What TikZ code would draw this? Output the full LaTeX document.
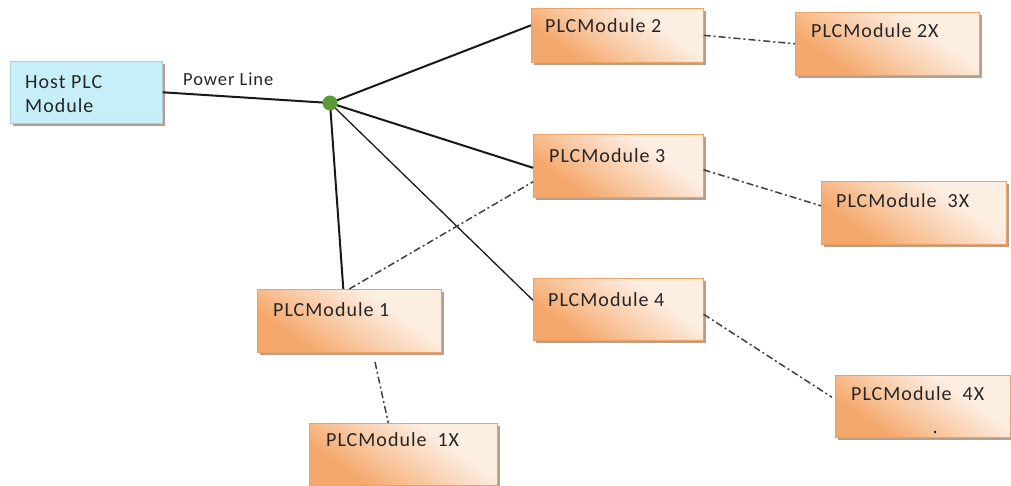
\documentclass[tikz,border=0pt]{standalone}
\usepackage{fontspec}
\setmainfont{Carlito}
\usetikzlibrary{shadows,calc}
\definecolor{orD}{RGB}{245,168,108}
\definecolor{orM}{RGB}{249,200,162}
\definecolor{orL}{RGB}{253,238,226}
\definecolor{hostC}{RGB}{198,239,250}
\definecolor{shadC}{RGB}{160,125,100}
\definecolor{dotG}{RGB}{90,155,55}
\definecolor{lineC}{RGB}{25,25,25}
\pgfdeclareverticalshading{orshade}{100bp}{color(0bp)=(orL); color(35bp)=(orL); color(55bp)=(orM); color(70bp)=(orD); color(100bp)=(orD)}
\tikzset{
  modbox/.style={draw=orD!85!brown, line width=0.6pt, shading=orshade, shading angle=145, inner sep=0pt, anchor=north west,
    drop shadow={shadow xshift=3pt, shadow yshift=-3pt, fill=shadC, opacity=0.75}},
  hostbox/.style={draw=hostC!70!gray, line width=0.6pt, fill=hostC, inner sep=0pt, anchor=north west,
    drop shadow={shadow xshift=3pt, shadow yshift=-3pt, fill=shadC, opacity=0.75}},
  lbl/.style={anchor=base west, inner sep=0pt, font=\fontsize{20}{24}\selectfont\addfontfeatures{LetterSpace=5}, text=black!85},
  solidln/.style={draw=lineC, line width=2pt},
  thinln/.style={draw=lineC, line width=1.3pt},
  dd/.style={draw=black!75, line width=1.5pt, dash pattern=on 7pt off 3pt on 2pt off 3pt},
}
\begin{document}
\begin{tikzpicture}[x=1pt,y=1pt]
\useasboundingbox (0,0) rectangle (1011,-486);
% boxes
\node[hostbox, minimum width=152pt, minimum height=62pt] (h) at (10,-61) {};
\node[modbox, minimum width=172pt, minimum height=54pt] (p2) at (531,-8) {};
\node[modbox, minimum width=184pt, minimum height=63pt] (p2x) at (795,-12) {};
\node[modbox, minimum width=170pt, minimum height=63pt] (p3) at (533,-134) {};
\node[modbox, minimum width=185pt, minimum height=63pt] (p3x) at (821,-181) {};
\node[modbox, minimum width=170pt, minimum height=62pt] (p4) at (533,-278) {};
\node[modbox, minimum width=175pt, minimum height=62pt] (p4x) at (835,-375) {};
\node[modbox, minimum width=184pt, minimum height=63pt] (p1) at (257,-289) {};
\node[modbox, minimum width=188pt, minimum height=62pt] (p1x) at (309,-423) {};
% labels
\node[lbl] (th1) at (25,-89) {Host PLC};
\node[lbl] (th2) at (25,-113) {Module};
\node[lbl, font=\fontsize{18.5}{22}\selectfont\addfontfeatures{LetterSpace=5}] (tpl) at (183,-86) {Power Line};
\node[lbl] (t2) at (545,-33) {PLCModule 2};
\node[lbl] (t2x) at (811,-38) {PLCModule 2X};
\node[lbl] (t3) at (549,-163) {PLCModule 3};
\node[lbl] (t3x) at (836,-208) {PLCModule\ \ 3X};
\node[lbl] (t4) at (548,-306) {PLCModule 4};
\node[lbl] (t4x) at (851,-400) {PLCModule\ \ 4X};
\node[lbl] (t1) at (273,-316) {PLCModule 1};
\node[lbl] (t1x) at (326,-446) {PLCModule\ \ 1X};
\node[circle, fill=black, inner sep=0pt, minimum size=2.5pt] (pt) at (935,-432) {};
% junction
\coordinate (j) at (330,-103);
\coordinate (p1b) at (375,-362);
% connectors
\draw[solidln] (h.east) -- (j);
\draw[solidln] (j) -- ([yshift=10pt]p2.west);
\draw[solidln] (j) -- ([yshift=-2pt]p3.west);
\draw[thinln] (j) -- ([yshift=9pt]p4.west);
\draw[solidln] (j) -- ([xshift=-6pt]p1.north);
\draw[dd] (p1.north) -- ([yshift=-16pt]p3.west);
\draw[dd] (p2.east) -- (p2x.west);
\draw[dd] ([yshift=-4pt]p3.east) -- ([yshift=7pt]p3x.west);
\draw[dd] ([yshift=-5pt]p4.east) -- ([xshift=-3pt,yshift=9pt]p4x.west);
\draw[dd] (p1b) -- ([xshift=-15pt]p1x.north);
\node[circle, fill=dotG, inner sep=0pt, minimum size=15pt] (jd) at (j) {};
\end{tikzpicture}
\end{document}
